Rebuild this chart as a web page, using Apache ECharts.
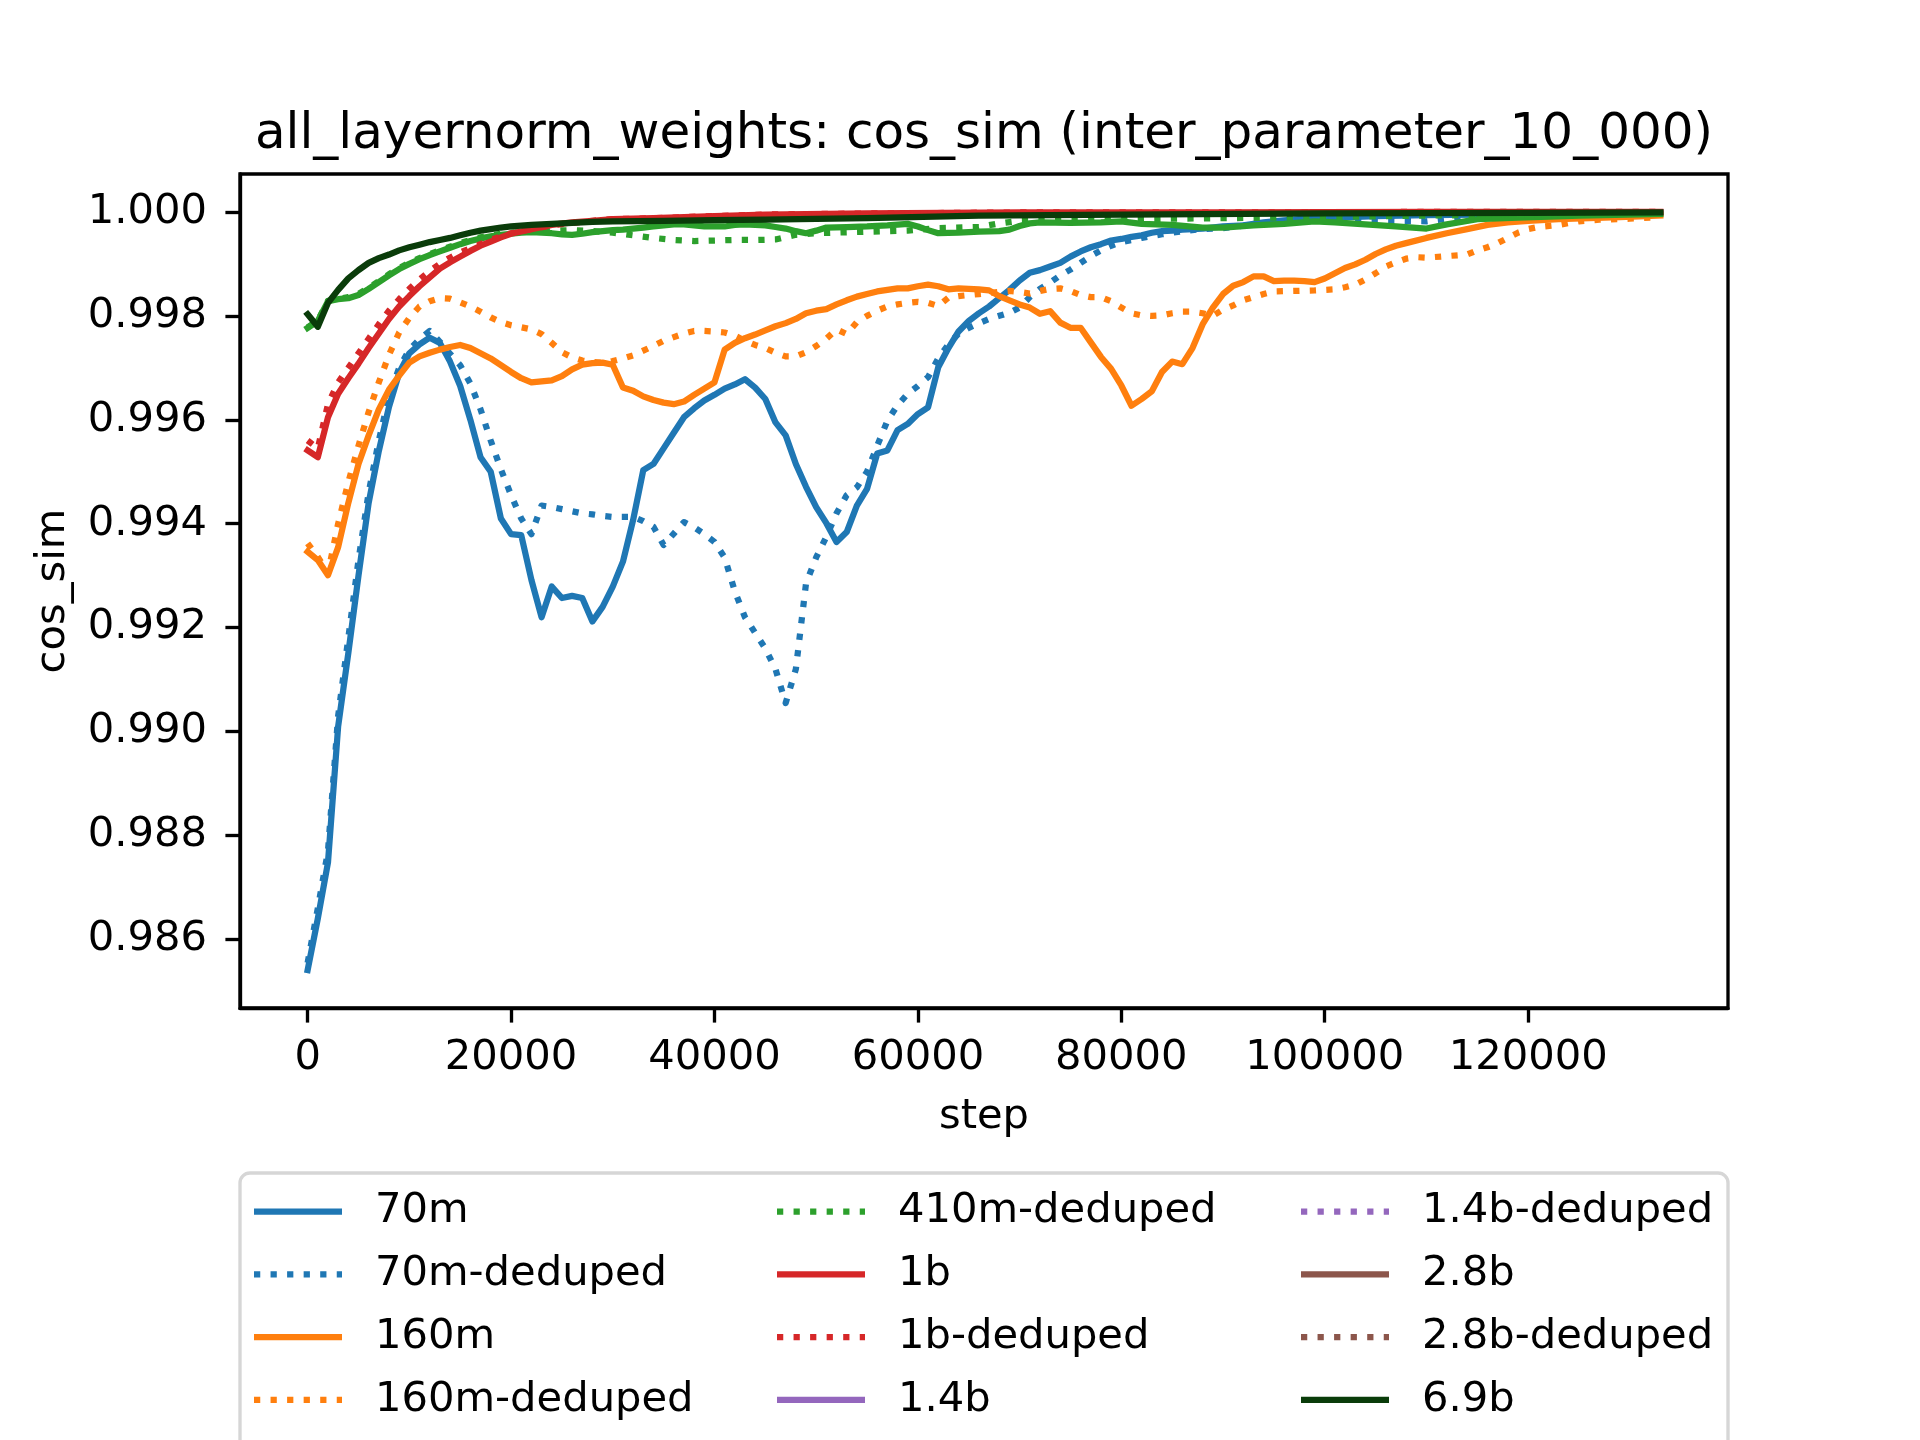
<!DOCTYPE html>
<html>
<head>
<meta charset="utf-8">
<title>all_layernorm_weights: cos_sim</title>
<script src="https://cdn.jsdelivr.net/npm/echarts@6/dist/echarts.min.js"></script>
<style>
    html, body { margin: 0; padding: 0; background: #ffffff; }
    #chart { width: 1920px; height: 1440px; }
</style>
</head>
<body>
<div id="chart"></div>
<script>
// [step, cos_sim]
const pts70m = [
    [0, 0.98541], [1000, 0.98640], [2000, 0.98748], [3000, 0.99010], [4000, 0.99151],
    [5000, 0.99300], [6000, 0.99440], [7000, 0.99540], [8000, 0.99625], [9000, 0.99690],
    [10000, 0.99728], [11000, 0.99745], [12000, 0.99758], [13000, 0.99748], [14000, 0.99712],
    [15000, 0.99665], [16000, 0.99600], [17000, 0.99528], [18000, 0.99500], [19000, 0.99410],
    [20000, 0.99380], [21000, 0.99378], [22000, 0.99292], [23000, 0.99220], [24000, 0.99279],
    [25000, 0.99257], [26000, 0.99261], [27000, 0.99257], [28000, 0.99212], [29000, 0.99240],
    [30000, 0.99279], [31000, 0.99327], [32000, 0.99407], [33000, 0.99503], [34000, 0.99515],
    [35000, 0.99545], [36000, 0.99575], [37000, 0.99605], [38000, 0.99622], [39000, 0.99637],
    [40000, 0.99648], [41000, 0.99660], [42000, 0.99668], [43000, 0.99678], [44000, 0.99662],
    [45000, 0.99640], [46000, 0.99595], [47000, 0.99570], [48000, 0.99515], [49000, 0.99471],
    [50000, 0.99432], [51000, 0.99401], [52000, 0.99365], [53000, 0.99384], [54000, 0.99435],
    [55000, 0.99467], [56000, 0.99535], [57000, 0.99541], [58000, 0.99580], [59000, 0.99592],
    [60000, 0.99611], [61000, 0.99624], [62000, 0.99701], [63000, 0.99738], [64000, 0.99770],
    [65000, 0.99790], [66000, 0.99805], [67000, 0.99818], [68000, 0.99834], [69000, 0.99850],
    [70000, 0.99868], [71000, 0.99883], [72000, 0.99888], [73000, 0.99895], [74000, 0.99902],
    [75000, 0.99914], [76000, 0.99924], [77000, 0.99932], [78000, 0.99938], [79000, 0.99945],
    [80000, 0.99948], [81000, 0.99952], [82000, 0.99955], [83000, 0.99960], [84000, 0.99963],
    [85000, 0.99964], [86000, 0.99966], [88000, 0.99968], [90000, 0.99972], [92000, 0.99974],
    [94000, 0.99980], [96000, 0.99984], [98000, 0.99987], [100000, 0.99988], [105000, 0.99992],
    [110000, 0.99994], [115000, 0.99995], [120000, 0.99997], [125000, 0.99998], [133000, 0.99999]
];

const pts70mDeduped = [
    [0, 0.98555], [1000, 0.98660], [2000, 0.98770], [3000, 0.99030], [4000, 0.99180],
    [5000, 0.99330], [6000, 0.99460], [7000, 0.99560], [8000, 0.99645], [9000, 0.99700],
    [10000, 0.99735], [11000, 0.99755], [12000, 0.99771], [13000, 0.99750], [14000, 0.99727],
    [15000, 0.99705], [16000, 0.99670], [17000, 0.99620], [18000, 0.99560], [19000, 0.99505],
    [20000, 0.99455], [21000, 0.99410], [22000, 0.99380], [23000, 0.99435], [24000, 0.99432],
    [25000, 0.99428], [26000, 0.99424], [27000, 0.99420], [28000, 0.99418], [29000, 0.99415],
    [30000, 0.99413], [31000, 0.99413], [32000, 0.99413], [33000, 0.99405], [34000, 0.99394],
    [35000, 0.99359], [36000, 0.99381], [37000, 0.99403], [38000, 0.99393], [39000, 0.99380],
    [40000, 0.99365], [41000, 0.99335], [42000, 0.99270], [43000, 0.99220], [44000, 0.99190],
    [45000, 0.99160], [46000, 0.99120], [47000, 0.99055], [48000, 0.99120], [49000, 0.99285],
    [50000, 0.99335], [51000, 0.99375], [52000, 0.99420], [53000, 0.99455], [54000, 0.99470],
    [55000, 0.99500], [56000, 0.99550], [57000, 0.99598], [58000, 0.99628], [59000, 0.99650],
    [60000, 0.99665], [61000, 0.99682], [62000, 0.99718], [63000, 0.99745], [64000, 0.99766],
    [65000, 0.99777], [66000, 0.99786], [67000, 0.99794], [68000, 0.99800], [69000, 0.99806],
    [70000, 0.99816], [71000, 0.99836], [72000, 0.99852], [73000, 0.99864], [74000, 0.99878],
    [75000, 0.99889], [76000, 0.99902], [77000, 0.99915], [78000, 0.99926], [79000, 0.99935],
    [80000, 0.99942], [82000, 0.99950], [84000, 0.99957], [86000, 0.99963], [88000, 0.99967],
    [90000, 0.99969], [93000, 0.99976], [96000, 0.99982], [100000, 0.99983], [105000, 0.99983],
    [110000, 0.99982], [114000, 0.99992], [120000, 0.99995], [126000, 0.99997], [133000, 0.99998]
];

const pts160m = [
    [0, 0.99346], [1000, 0.99330], [2000, 0.99301], [3000, 0.99355], [4000, 0.99440],
    [5000, 0.99515], [6000, 0.99570], [7000, 0.99620], [8000, 0.99658], [9000, 0.99685],
    [10000, 0.99710], [11000, 0.99722], [12000, 0.99729], [13000, 0.99735], [14000, 0.99740],
    [15000, 0.99744], [16000, 0.99738], [17000, 0.99728], [18000, 0.99718], [19000, 0.99705],
    [20000, 0.99692], [21000, 0.99680], [22000, 0.99672], [23000, 0.99674], [24000, 0.99676],
    [25000, 0.99684], [26000, 0.99697], [27000, 0.99706], [28000, 0.99709], [29000, 0.99710],
    [30000, 0.99706], [31000, 0.99662], [32000, 0.99656], [33000, 0.99645], [34000, 0.99638],
    [35000, 0.99633], [36000, 0.99630], [37000, 0.99635], [38000, 0.99648], [39000, 0.99660],
    [40000, 0.99672], [41000, 0.99735], [42000, 0.99748], [43000, 0.99757], [44000, 0.99764],
    [45000, 0.99772], [46000, 0.99780], [47000, 0.99786], [48000, 0.99794], [49000, 0.99805],
    [50000, 0.99810], [51000, 0.99813], [52000, 0.99822], [53000, 0.99830], [54000, 0.99837],
    [55000, 0.99842], [56000, 0.99847], [57000, 0.99850], [58000, 0.99853], [59000, 0.99853],
    [60000, 0.99857], [61000, 0.99860], [62000, 0.99857], [63000, 0.99851], [64000, 0.99853],
    [65000, 0.99852], [66000, 0.99851], [67000, 0.99849], [68000, 0.99838], [69000, 0.99830],
    [70000, 0.99822], [71000, 0.99816], [72000, 0.99804], [73000, 0.99809], [74000, 0.99787],
    [75000, 0.99777], [76000, 0.99777], [77000, 0.99749], [78000, 0.99721], [79000, 0.99698],
    [80000, 0.99666], [81000, 0.99627], [82000, 0.99640], [83000, 0.99655], [84000, 0.99692],
    [85000, 0.99712], [86000, 0.99707], [87000, 0.99738], [88000, 0.99784], [89000, 0.99816],
    [90000, 0.99842], [91000, 0.99858], [92000, 0.99865], [93000, 0.99876], [94000, 0.99876],
    [95000, 0.99867], [96000, 0.99868], [97000, 0.99868], [98000, 0.99867], [99000, 0.99865],
    [100000, 0.99872], [101000, 0.99882], [102000, 0.99892], [103000, 0.99899], [104000, 0.99908],
    [105000, 0.99919], [106000, 0.99928], [107000, 0.99935], [108000, 0.99940], [110000, 0.99950],
    [112000, 0.99959], [114000, 0.99967], [116000, 0.99975], [118000, 0.99980], [120000, 0.99983],
    [123000, 0.99986], [126000, 0.99988], [129000, 0.99990], [133000, 0.99993]
];

const pts160mDeduped = [
    [0, 0.99362], [1000, 0.99336], [2000, 0.99305], [3000, 0.99400], [4000, 0.99480],
    [5000, 0.99550], [6000, 0.99615], [7000, 0.99672], [8000, 0.99725], [9000, 0.99768],
    [10000, 0.99796], [11000, 0.99818], [12000, 0.99828], [13000, 0.99834], [14000, 0.99833],
    [15000, 0.99826], [16000, 0.99818], [17000, 0.99808], [18000, 0.99797], [19000, 0.99788],
    [20000, 0.99782], [21000, 0.99778], [22000, 0.99774], [23000, 0.99765], [24000, 0.99748],
    [25000, 0.99730], [26000, 0.99720], [27000, 0.99714], [28000, 0.99711], [29000, 0.99710],
    [30000, 0.99713], [31000, 0.99718], [32000, 0.99724], [33000, 0.99733], [34000, 0.99742],
    [35000, 0.99752], [36000, 0.99759], [37000, 0.99766], [38000, 0.99771], [39000, 0.99771],
    [40000, 0.99770], [41000, 0.99768], [42000, 0.99762], [43000, 0.99752], [44000, 0.99744],
    [45000, 0.99738], [46000, 0.99729], [47000, 0.99722], [48000, 0.99722], [49000, 0.99730],
    [50000, 0.99742], [51000, 0.99756], [52000, 0.99774], [53000, 0.99765], [54000, 0.99788],
    [55000, 0.99800], [56000, 0.99810], [57000, 0.99818], [58000, 0.99822], [59000, 0.99825],
    [60000, 0.99827], [61000, 0.99825], [62000, 0.99819], [63000, 0.99835], [64000, 0.99838],
    [65000, 0.99840], [66000, 0.99842], [67000, 0.99844], [68000, 0.99846], [69000, 0.99848],
    [70000, 0.99846], [71000, 0.99843], [72000, 0.99848], [73000, 0.99852], [74000, 0.99853],
    [75000, 0.99848], [76000, 0.99840], [77000, 0.99836], [78000, 0.99836], [79000, 0.99828],
    [80000, 0.99816], [81000, 0.99805], [82000, 0.99801], [83000, 0.99800], [84000, 0.99801],
    [85000, 0.99805], [86000, 0.99808], [87000, 0.99808], [88000, 0.99805], [89000, 0.99800],
    [90000, 0.99812], [91000, 0.99820], [92000, 0.99830], [93000, 0.99836], [94000, 0.99842],
    [95000, 0.99847], [97000, 0.99848], [99000, 0.99849], [101000, 0.99851], [102000, 0.99855],
    [103000, 0.99860], [104000, 0.99870], [105000, 0.99882], [106000, 0.99895], [107000, 0.99903],
    [108000, 0.99910], [109000, 0.99913], [110000, 0.99912], [112000, 0.99915], [114000, 0.99918],
    [115000, 0.99926], [116000, 0.99932], [117000, 0.99940], [118000, 0.99950], [119000, 0.99960],
    [120000, 0.99967], [121000, 0.99971], [123000, 0.99975], [125000, 0.99982], [127000, 0.99985],
    [130000, 0.99987], [133000, 0.99990]
];

const pts410m = [
    [0, 0.99777], [1000, 0.99790], [2000, 0.99828], [3000, 0.99832], [4000, 0.99834],
    [5000, 0.99840], [6000, 0.99852], [7000, 0.99865], [8000, 0.99878], [9000, 0.99890],
    [10000, 0.99900], [11000, 0.99909], [12000, 0.99917], [13000, 0.99924], [14000, 0.99931],
    [15000, 0.99938], [16000, 0.99944], [17000, 0.99949], [18000, 0.99953], [19000, 0.99956],
    [20000, 0.99958], [21000, 0.99960], [22000, 0.99961], [23000, 0.99960], [24000, 0.99959],
    [25000, 0.99957], [26000, 0.99956], [27000, 0.99958], [28000, 0.99961], [29000, 0.99963],
    [30000, 0.99965], [31000, 0.99966], [32000, 0.99968], [33000, 0.99970], [34000, 0.99972],
    [35000, 0.99974], [36000, 0.99976], [37000, 0.99976], [38000, 0.99974], [39000, 0.99972],
    [40000, 0.99972], [41000, 0.99972], [42000, 0.99975], [43000, 0.99976], [44000, 0.99975],
    [45000, 0.99974], [46000, 0.99971], [47000, 0.99968], [48000, 0.99963], [49000, 0.99959],
    [50000, 0.99964], [51000, 0.99970], [53000, 0.99971], [55000, 0.99972], [57000, 0.99974],
    [59000, 0.99977], [60000, 0.99972], [61000, 0.99965], [62000, 0.99959], [64000, 0.99960],
    [66000, 0.99962], [68000, 0.99963], [69000, 0.99966], [70000, 0.99973], [71000, 0.99978],
    [72000, 0.99980], [75000, 0.99979], [78000, 0.99980], [80000, 0.99982], [82000, 0.99977],
    [85000, 0.99975], [88000, 0.99970], [90000, 0.99970], [93000, 0.99974], [96000, 0.99977],
    [99000, 0.99982], [101000, 0.99980], [104000, 0.99976], [107000, 0.99972], [110000, 0.99968],
    [112000, 0.99976], [115000, 0.99986], [119000, 0.99989], [125000, 0.99993], [133000, 0.99996]
];

const pts410mDeduped = [
    [0, 0.99778], [1000, 0.99791], [2000, 0.99829], [3000, 0.99833], [4000, 0.99836],
    [5000, 0.99842], [6000, 0.99854], [7000, 0.99867], [8000, 0.99880], [9000, 0.99892],
    [10000, 0.99902], [11000, 0.99911], [12000, 0.99919], [13000, 0.99926], [14000, 0.99933],
    [15000, 0.99940], [16000, 0.99946], [17000, 0.99951], [18000, 0.99955], [19000, 0.99958],
    [20000, 0.99960], [22000, 0.99962], [24000, 0.99964], [26000, 0.99965], [28000, 0.99963],
    [30000, 0.99960], [32000, 0.99955], [34000, 0.99950], [36000, 0.99946], [38000, 0.99944],
    [40000, 0.99945], [42000, 0.99946], [44000, 0.99946], [46000, 0.99947], [48000, 0.99956],
    [50000, 0.99959], [55000, 0.99962], [59000, 0.99964], [62000, 0.99969], [66000, 0.99971],
    [68000, 0.99978], [70000, 0.99983], [72000, 0.99984], [80000, 0.99985], [85000, 0.99987],
    [90000, 0.99988], [100000, 0.99990], [110000, 0.99993], [120000, 0.99995], [133000, 0.99997]
];

const pts1b = [
    [0, 0.99541], [1000, 0.99528], [2000, 0.99605], [3000, 0.99650], [4000, 0.99680],
    [5000, 0.99708], [6000, 0.99738], [7000, 0.99766], [8000, 0.99794], [9000, 0.99818],
    [10000, 0.99838], [11000, 0.99857], [12000, 0.99874], [13000, 0.99891], [14000, 0.99903],
    [15000, 0.99914], [16000, 0.99925], [17000, 0.99935], [18000, 0.99943], [19000, 0.99951],
    [20000, 0.99958], [22000, 0.99967], [24000, 0.99975], [26000, 0.99980], [28000, 0.99983],
    [30000, 0.99986], [34000, 0.99988], [40000, 0.99992], [45000, 0.99995], [55000, 0.99997],
    [70000, 0.99999], [90000, 0.99999], [110000, 1.00000], [133000, 1.00000]
];

const pts1bDeduped = [
    [0, 0.99560], [1000, 0.99545], [2000, 0.99630], [3000, 0.99672], [4000, 0.99700],
    [5000, 0.99728], [6000, 0.99756], [7000, 0.99784], [8000, 0.99810], [9000, 0.99832],
    [10000, 0.99852], [11000, 0.99870], [12000, 0.99886], [13000, 0.99900], [14000, 0.99912],
    [15000, 0.99922], [16000, 0.99930], [17000, 0.99938], [18000, 0.99946], [19000, 0.99953],
    [20000, 0.99959], [22000, 0.99967], [24000, 0.99974], [26000, 0.99979], [28000, 0.99983],
    [30000, 0.99986], [34000, 0.99988], [40000, 0.99992], [45000, 0.99995], [55000, 0.99997],
    [70000, 0.99999], [90000, 0.99999], [110000, 1.00000], [133000, 1.00000]
];

const pts69b = [
    [0, 0.99803], [1000, 0.99779], [2000, 0.99825], [3000, 0.99850], [4000, 0.99872],
    [5000, 0.99888], [6000, 0.99902], [7000, 0.99911], [8000, 0.99918], [9000, 0.99926],
    [10000, 0.99932], [11000, 0.99937], [12000, 0.99942], [13000, 0.99946], [14000, 0.99950],
    [15000, 0.99955], [16000, 0.99960], [17000, 0.99964], [18000, 0.99967], [19000, 0.99970],
    [20000, 0.99972], [22000, 0.99975], [24000, 0.99977], [26000, 0.99979], [28000, 0.99981],
    [30000, 0.99982], [35000, 0.99983], [40000, 0.99984], [45000, 0.99985], [55000, 0.99988],
    [66000, 0.99993], [80000, 0.99995], [100000, 0.99997], [120000, 0.99998], [133000, 0.99999]
];

// legend columns as they show in the picture (the 5th row, 410m, falls below the page)
const legendCol1 = ['70m', '70m-deduped', '160m', '160m-deduped'];
const legendCol2 = ['410m-deduped', '1b', '1b-deduped', '1.4b'];
const legendCol3 = ['1.4b-deduped', '2.8b', '2.8b-deduped', '6.9b'];

const yTicks = [0.986, 0.988, 0.990, 0.992, 0.994, 0.996, 0.998, 1.000];
const xTicks = [0, 20000, 40000, 60000, 80000, 100000, 120000];

const FONT = 'DejaVu Sans';
const FS = 41.67;       // 10pt at 300 dpi
const LW = 6.25;        // 1.5pt
const AXW = 3.33;       // 0.8pt
const DOTS = [6.25, 10.3];
const SOLID_ICON = 'path://M0,0H88V6.25H0Z';
const DOTTED_ICON = 'path://M0,0H6.25V6.25H0Z M16.55,0H22.8V6.25H16.55Z M33.1,0H39.35V6.25H33.1Z M49.65,0H55.9V6.25H49.65Z M66.2,0H72.45V6.25H66.2Z M82.75,0H88V6.25H82.75Z';

const seriesDefs = [
    { name: '70m', color: '#1f77b4', dotted: false, data: pts70m },
    { name: '70m-deduped', color: '#1f77b4', dotted: true, data: pts70mDeduped },
    { name: '160m', color: '#ff7f0e', dotted: false, data: pts160m },
    { name: '160m-deduped', color: '#ff7f0e', dotted: true, data: pts160mDeduped },
    { name: '410m', color: '#2ca02c', dotted: false, data: pts410m },
    { name: '410m-deduped', color: '#2ca02c', dotted: true, data: pts410mDeduped },
    { name: '1b', color: '#d62728', dotted: false, data: pts1b },
    { name: '1b-deduped', color: '#d62728', dotted: true, data: pts1bDeduped },
    { name: '1.4b', color: '#9467bd', dotted: false, data: [] },
    { name: '1.4b-deduped', color: '#9467bd', dotted: true, data: [] },
    { name: '2.8b', color: '#8c564b', dotted: false, data: [] },
    { name: '2.8b-deduped', color: '#8c564b', dotted: true, data: [] },
    { name: '6.9b', color: '#0a3c0a', dotted: false, data: pts69b }
];

const dottedByName = {};
seriesDefs.forEach(s => { dottedByName[s.name] = s.dotted; });

function legendColumn(names, left) {
    return {
        orient: 'vertical',
        left: left,
        top: 1190.5,
        padding: 0,
        itemWidth: 88,
        itemHeight: 6.25,
        itemGap: 20.8,
        selectedMode: false,
        symbolKeepAspect: false,
        itemStyle: { borderWidth: 0 },
        textStyle: {
            fontFamily: FONT,
            fontSize: FS,
            color: '#000',
            padding: [0, 0, 0, 28]
        },
        data: names.map(n => ({ name: n, icon: dottedByName[n] ? DOTTED_ICON : SOLID_ICON }))
    };
}

const chart = echarts.init(document.getElementById('chart'), null, { renderer: 'canvas' });

chart.setOption({
    backgroundColor: '#ffffff',
    animation: false,
    title: {
        text: 'all_layernorm_weights: cos_sim (inter_parameter_10_000)',
        left: 979,
        top: 105,
        textAlign: 'center',
        textStyle: { fontFamily: FONT, fontSize: 50, fontWeight: 'normal', color: '#000' }
    },
    grid: {
        left: 240, right: 192, top: 174, bottom: 432,
        show: true, borderColor: '#000', borderWidth: AXW, backgroundColor: 'transparent'
    },
    xAxis: {
        type: 'value',
        min: -6650,
        max: 139650,
        name: 'step',
        nameLocation: 'middle',
        nameGap: 88,
        nameTextStyle: { fontFamily: FONT, fontSize: FS, color: '#000' },
        axisLine: { show: true, onZero: false, lineStyle: { color: '#000', width: AXW } },
        axisTick: { show: true, length: 14.6, lineStyle: { color: '#000', width: AXW }, customValues: xTicks },
        axisLabel: {
            fontFamily: FONT, fontSize: FS, color: '#000', margin: 29,
            customValues: xTicks,
            formatter: v => String(v)
        },
        splitLine: { show: false }
    },
    yAxis: {
        type: 'value',
        min: 0.98468,
        max: 1.00073,
        name: 'cos_sim',
        nameLocation: 'middle',
        nameGap: 166,
        nameRotate: 90,
        nameTextStyle: { fontFamily: FONT, fontSize: FS, color: '#000' },
        axisLine: { show: true, onZero: false, lineStyle: { color: '#000', width: AXW } },
        axisTick: { show: true, length: 14.6, lineStyle: { color: '#000', width: AXW }, customValues: yTicks },
        axisLabel: {
            fontFamily: FONT, fontSize: FS, color: '#000', margin: 33,
            customValues: yTicks,
            formatter: v => v.toFixed(3)
        },
        splitLine: { show: false }
    },
    legend: [
        legendColumn(legendCol1, 254),
        legendColumn(legendCol2, 777),
        legendColumn(legendCol3, 1301)
    ],
    graphic: [{
        type: 'rect',
        z: -1,
        shape: { x: 240, y: 1173, width: 1488, height: 400, r: 10 },
        style: { fill: '#ffffff', stroke: '#d6d6d6', lineWidth: 3.33 }
    }],
    series: seriesDefs.map(s => ({
        name: s.name,
        type: 'line',
        data: s.data,
        color: s.color,
        symbol: 'none',
        showSymbol: false,
        smooth: false,
        silent: true,
        lineStyle: {
            color: s.color,
            width: LW,
            type: s.dotted ? DOTS : 'solid',
            cap: s.dotted ? 'butt' : 'square',
            join: 'round'
        }
    }))
});
</script>
</body>
</html>
